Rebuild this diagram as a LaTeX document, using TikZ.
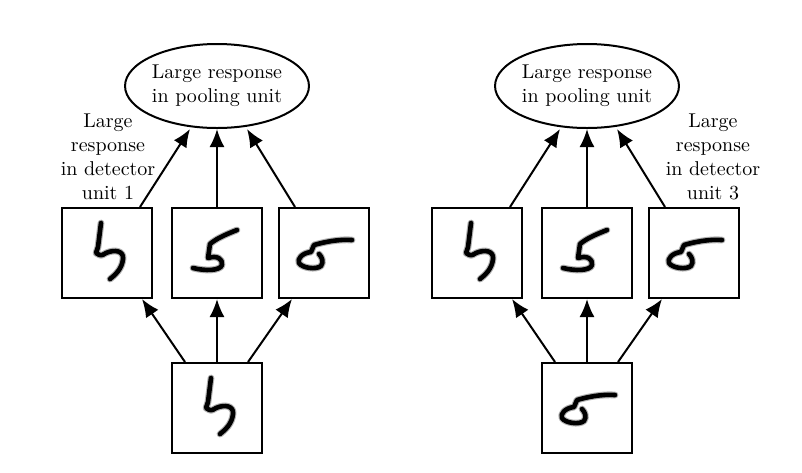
\documentclass[tikz,border=0pt]{standalone}
\usetikzlibrary{shapes.geometric,arrows.meta}
\tikzset{
  unitbox/.style={draw,line width=1pt,minimum width=45pt,minimum height=45pt,inner sep=0pt},
  poolunit/.style={draw,ellipse,line width=1pt,minimum width=88pt,minimum height=42pt,inner sep=0pt,align=center},
  conn/.style={line width=1pt,-{Latex[length=9pt,width=7.5pt]}},
  ink/.style={line width=2.3pt,line cap=round,line join=round,black},
  blur/.style={line width=3.4pt,line cap=round,line join=round,black!30},
  digitfour/.pic={
    \foreach \s in {blur,ink}
      \draw[\s] (-6,-30) .. controls (-7,-18) .. (-9,-6) -- (-11,0) .. controls (-6,3) .. (-1,0)
        .. controls (8,-4) and (17,-2) .. (16,6) .. controls (15,16) and (8,22) .. (3,26);},
  digitfive/.pic={
    \foreach \s in {blur,ink}
      \draw[\s] (20,-23) .. controls (10,-19) and (0,-15) .. (-7,-9) -- (-9,5)
        .. controls (0,2) and (6,6) .. (5,12) .. controls (3,18) and (-12,18) .. (-24,15);},
  digitflat/.pic={
    \foreach \s in {blur,ink}
      \draw[\s] (28,-13) .. controls (15,-14) and (0,-11) .. (-10,-8) -- (-13,-1)
        .. controls (-22,0) and (-27,6) .. (-25,10) .. controls (-22,15) and (-8,17) .. (-3,13)
        .. controls (0,9) and (-2,4) .. (-5,1);}
}
\begin{document}
\begin{tikzpicture}[x=0.5pt,y=-0.5pt]
  \useasboundingbox (0,0) rectangle (802,472);
  % two pooling groups, the second shifted by 370 px
  \foreach \g/\ox/\inp in {L/0/digitfour,R/370/digitflat}{
    \node[poolunit] (pool\g) at (217+\ox,86) {Large response\\in pooling unit};
    \node[unitbox] (detA\g) at (107+\ox,253) {};
    \node[unitbox] (detB\g) at (217+\ox,253) {};
    \node[unitbox] (detC\g) at (324+\ox,253) {};
    \node[unitbox] (in\g) at (217+\ox,408) {};
    \pic at (detA\g) {digitfour};
    \pic at (detB\g) {digitfive};
    \pic at (detC\g) {digitflat};
    \pic at (in\g) {\inp};
    \draw[conn] ([xshift=16.5pt]detA\g.north) -- ([xshift=-13.5pt]pool\g.south);
    \draw[conn] (detB\g.north) -- (pool\g.south);
    \draw[conn] ([xshift=-14.5pt]detC\g.north) -- ([xshift=15pt]pool\g.south);
    \draw[conn] ([xshift=-16pt]in\g.north) -- ([xshift=17.5pt]detA\g.south);
    \draw[conn] (in\g.north) -- (detB\g.south);
    \draw[conn] ([xshift=15.5pt]in\g.north) -- ([xshift=-16pt]detC\g.south);
  }
  \node[align=center] (labL) at (108,157) {Large\\response\\in detector\\unit 1};
  \node[align=center] (labR) at (713,157) {Large\\response\\in detector\\unit 3};
\end{tikzpicture}
\end{document}
